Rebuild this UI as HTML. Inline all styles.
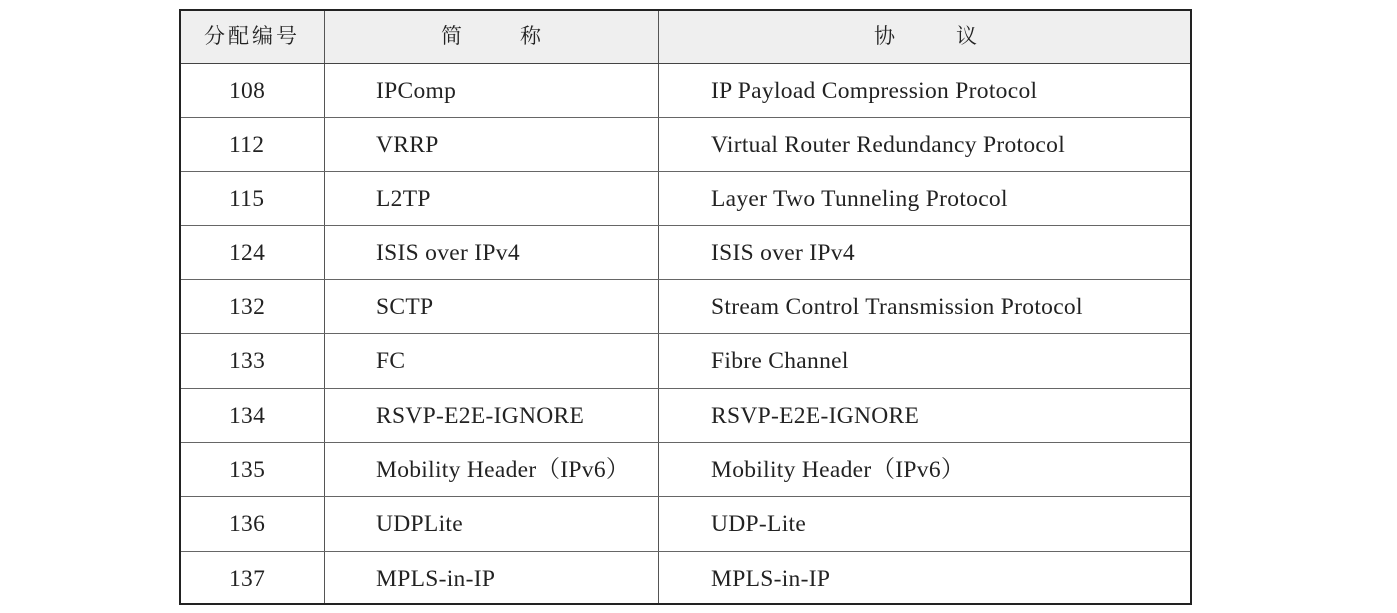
<!DOCTYPE html>
<html><head><meta charset="utf-8"><style>
body{margin:0;width:1397px;height:613px;background:#fff;position:relative;overflow:hidden}
.t{position:absolute;left:179px;top:9px;width:1013px;height:596px;border:2px solid #222;box-sizing:border-box}
.hl{position:absolute;left:0;right:0;height:1px;background:#666}
.vl{position:absolute;top:0;bottom:0;width:1px;background:#555}
.tx{position:absolute;font-family:"Liberation Serif","Noto Serif CJK SC",serif;font-size:23.5px;color:#222;line-height:56px;white-space:pre;letter-spacing:0.3px}
.hd{position:absolute;left:0;right:0;top:0;height:52px;background:#efefef}
.h{font-family:"Liberation Serif","Noto Serif CJK SC","Noto Sans CJK SC",serif;font-size:21px;line-height:52px;letter-spacing:3px}
</style></head><body>
<div class="t">
<div class="hd"></div>
<div class="vl" style="left:143px"></div>
<div class="vl" style="left:477px"></div>
<div class="hl" style="top:52px;background:#444"></div>
<div class="hl" style="top:106px"></div>
<div class="hl" style="top:160px"></div>
<div class="hl" style="top:214px"></div>
<div class="hl" style="top:268px"></div>
<div class="hl" style="top:322px"></div>
<div class="hl" style="top:377px"></div>
<div class="hl" style="top:431px"></div>
<div class="hl" style="top:485px"></div>
<div class="hl" style="top:540px"></div>
</div>
<div class="tx h" style="left:204px;top:10px">分配编号</div>
<div class="tx h" style="left:441px;top:10px">简</div>
<div class="tx h" style="left:520px;top:10px">称</div>
<div class="tx h" style="left:874px;top:10px">协</div>
<div class="tx h" style="left:956px;top:10px">议</div>
<div id="rows"></div>
<script>
var d=[["108","IPComp","IP Payload Compression Protocol"],["112","VRRP","Virtual Router Redundancy Protocol"],["115","L2TP","Layer Two Tunneling Protocol"],["124","ISIS over IPv4","ISIS over IPv4"],["132","SCTP","Stream Control Transmission Protocol"],["133","FC","Fibre Channel"],["134","RSVP-E2E-IGNORE","RSVP-E2E-IGNORE"],["135","Mobility Header（IPv6）","Mobility Header（IPv6）"],["136","UDPLite","UDP-Lite"],["137","MPLS-in-IP","MPLS-in-IP"]];
var tops=[63,117,171,225,279,333,388,442,496,551],h="";
d.forEach(function(r,i){var y=tops[i];
h+='<div class="tx" style="left:229px;top:'+y+'px">'+r[0]+'</div><div class="tx" style="left:376px;top:'+y+'px">'+r[1]+'</div><div class="tx" style="left:711px;top:'+y+'px">'+r[2]+'</div>';});
document.getElementById("rows").innerHTML=h;
</script>
</body></html>
